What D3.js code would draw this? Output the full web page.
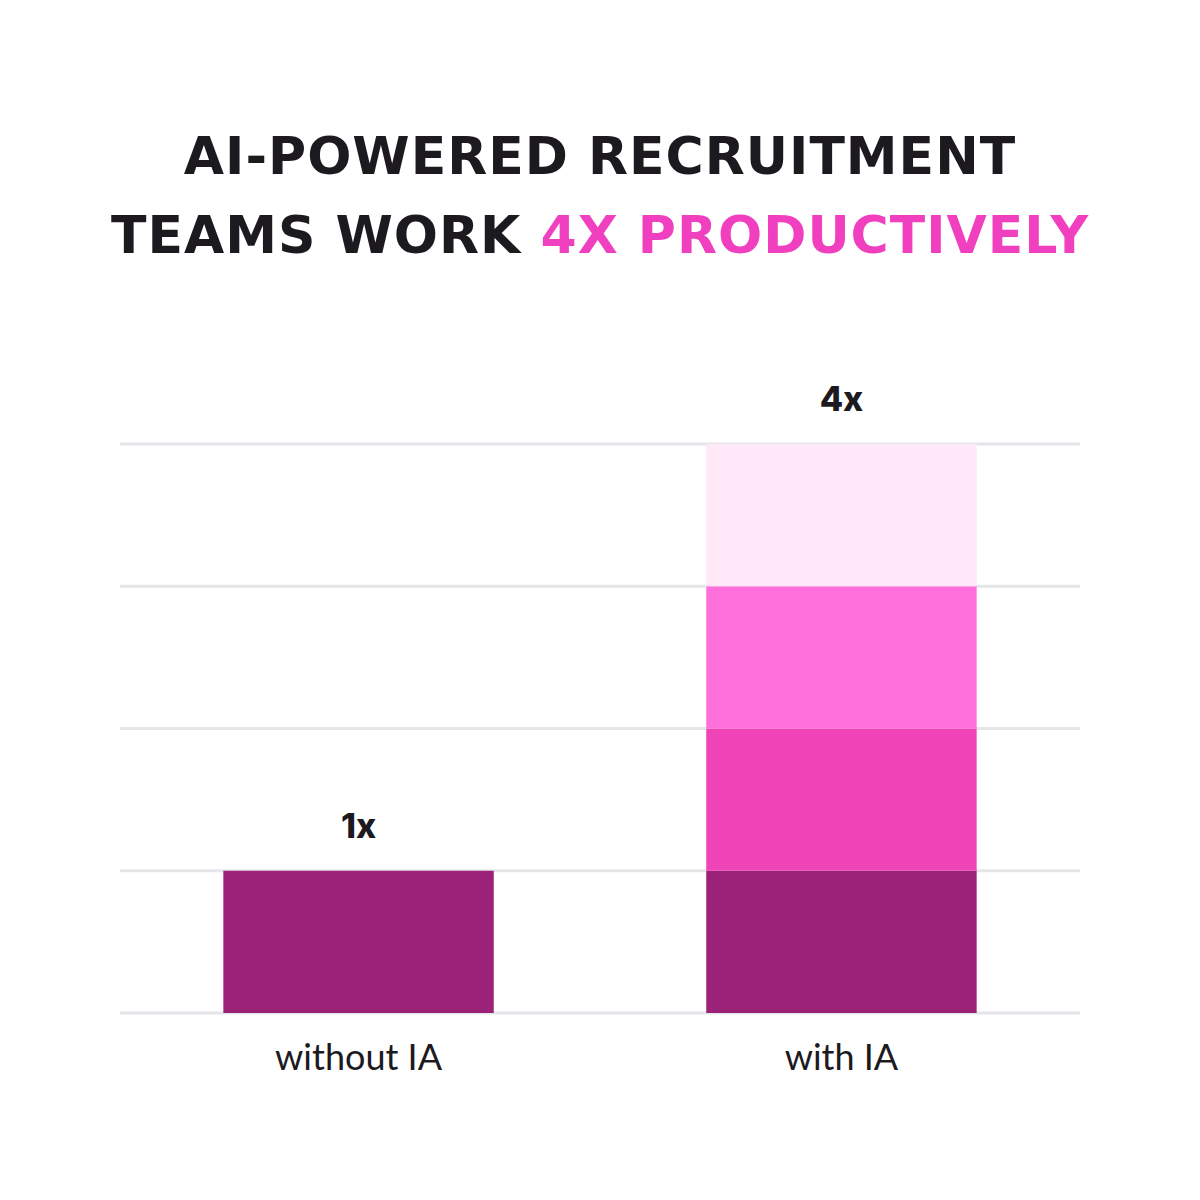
<!DOCTYPE html><html><head><meta charset="utf-8"><script src="https://cdn.jsdelivr.net/npm/d3@7"></script>
<style>body{margin:0;background:#fff}</style></head><body><svg id="c" width="1200" height="1200"></svg><script>
const categories=["without IA","with IA"];
const segmentColors=["#9c2277","#ee44b8","#ff6fdb","#ffe8f8"];
const segments=[[1,0,0,0],[1,1,1,1]];
const valueLabels=["1x","4x"];
const gridTicks=[0,1,2,3,4];
const svg=d3.select("#c");
const y=d3.scaleLinear().domain([0,4]).range([1013,444]);
const x=d3.scaleBand().domain(categories).range([120,1080]).paddingInner(0.44).paddingOuter(0.214);
svg.append("g").selectAll("line").data(gridTicks).join("line").attr("x1",120).attr("x2",1080).attr("y1",d=>y(d)).attr("y2",d=>y(d)).attr("stroke","#e6e6ea").attr("stroke-width",3);
categories.forEach((c,i)=>{let acc=0;segments[i].forEach((v,j)=>{if(!v)return;svg.append("rect").attr("x",x(c)).attr("width",x.bandwidth()).attr("y",y(acc+v)).attr("height",y(acc)-y(acc+v)).attr("fill",segmentColors[j]);acc+=v;});
svg.append("text").attr("x",x(c)+x.bandwidth()/2).attr("y",y(acc)-33).attr("text-anchor","middle").attr("font-family","Inter").attr("font-weight",800).attr("font-size",34).attr("fill","#1c1a1f").text(valueLabels[i]);
svg.append("text").attr("x",x(c)+x.bandwidth()/2).attr("y",1070).attr("text-anchor","middle").attr("font-family","Lato").attr("font-size",36).attr("fill","#1c1a1f").text(c);});
const t=svg.append("text").attr("text-anchor","middle").attr("font-family","DejaVu Sans").attr("font-weight","bold").attr("font-size",52).attr("fill","#1c1a1f").attr("letter-spacing",1);
t.append("tspan").attr("x",600).attr("y",174).text("AI-POWERED RECRUITMENT");
const l2=t.append("tspan").attr("x",600).attr("y",253);
l2.append("tspan").text("TEAMS WORK ");
l2.append("tspan").attr("fill","#f040c0").text("4X PRODUCTIVELY");
</script></body></html>
